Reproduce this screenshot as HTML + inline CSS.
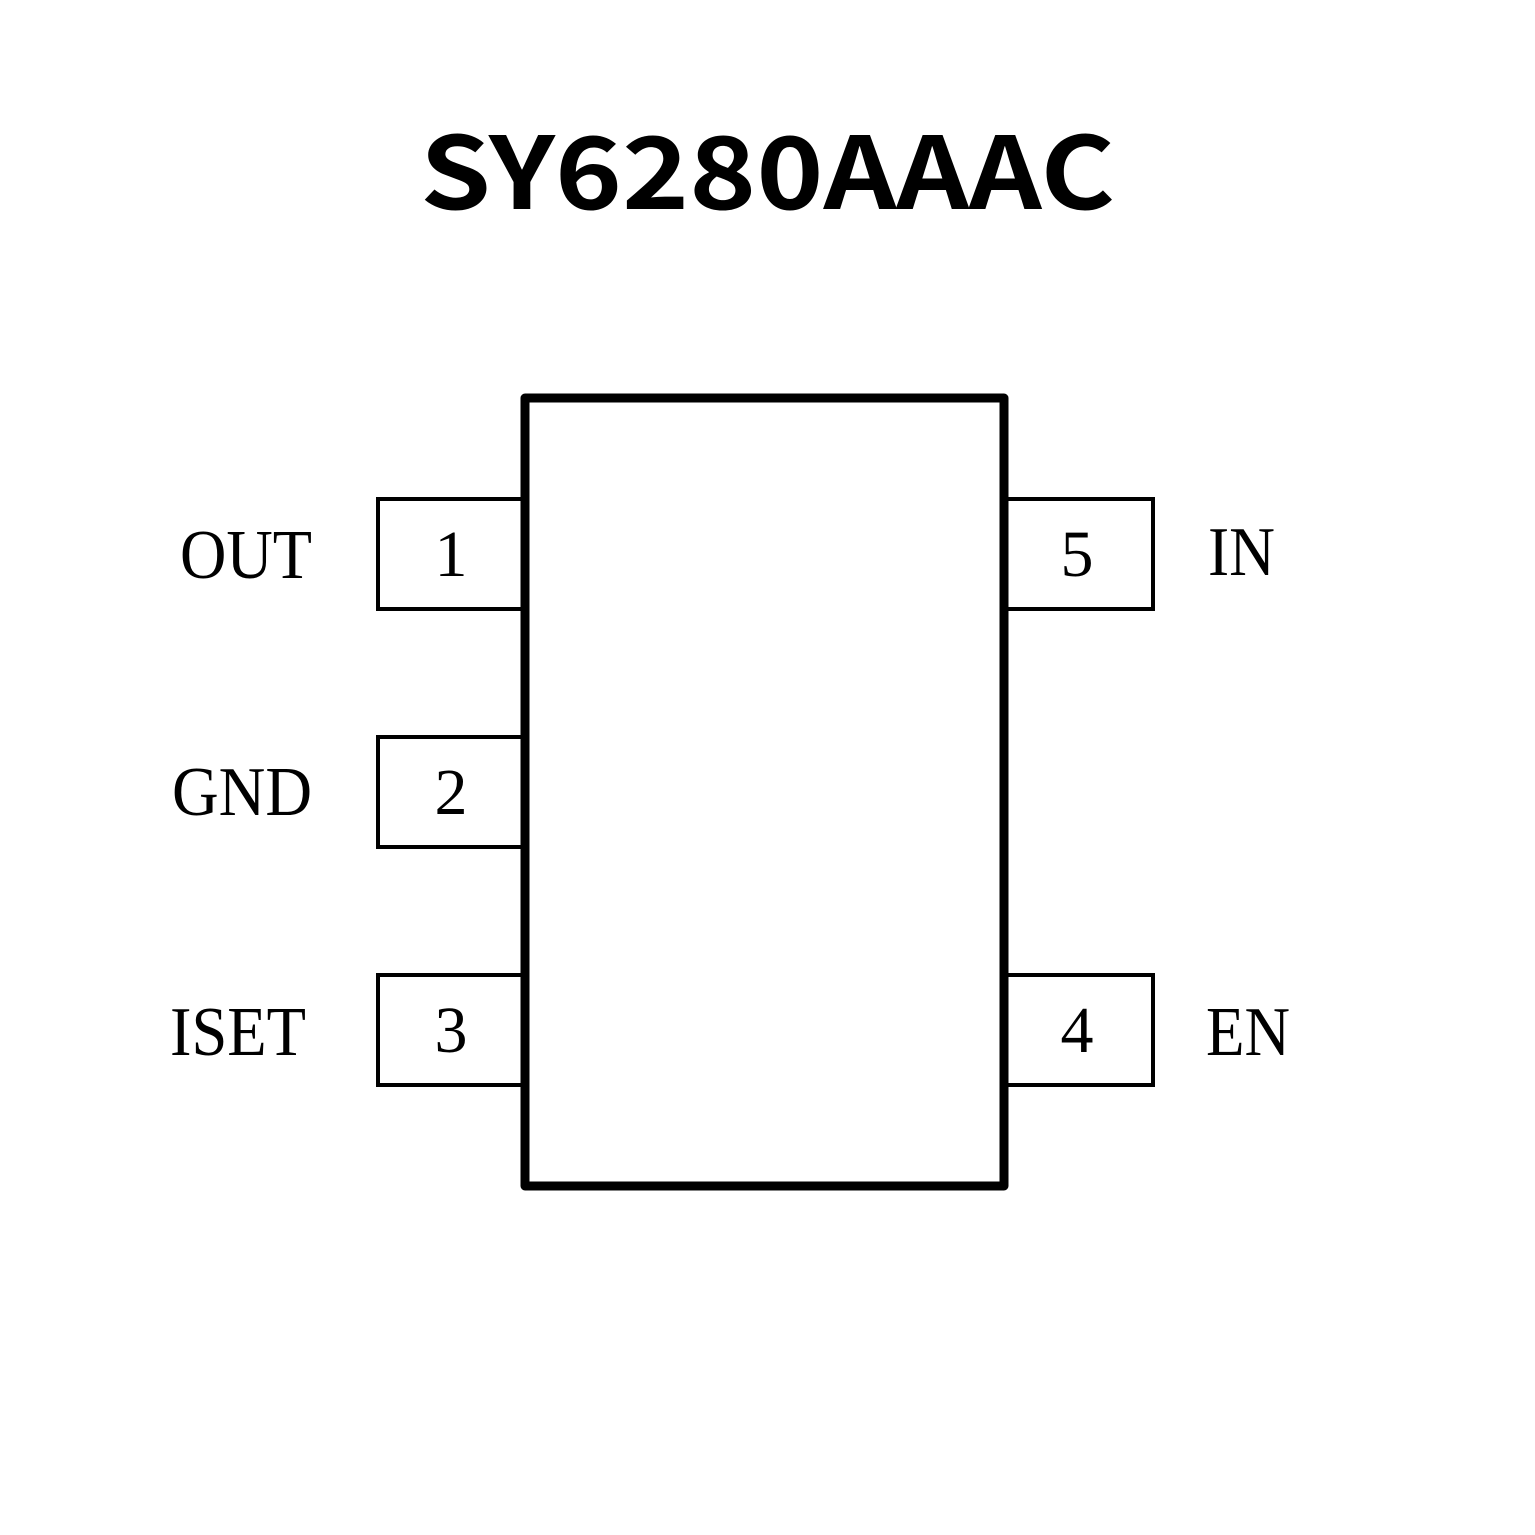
<!DOCTYPE html>
<html><head><meta charset="utf-8"><style>html,body{margin:0;padding:0;background:#fff}svg{display:block}</style></head>
<body>
<svg width="1535" height="1535" viewBox="0 0 1535 1535" xmlns="http://www.w3.org/2000/svg">
<rect width="1535" height="1535" fill="#fff"/>
<text x="420" y="209" font-family="Noto Sans CJK SC, Liberation Sans, sans-serif" font-weight="bold" font-size="100" textLength="695" lengthAdjust="spacingAndGlyphs">SY6280AAAC</text>
<g fill="none" stroke="#000" stroke-width="4">
<rect x="378" y="499" width="145" height="110"/>
<rect x="378" y="737" width="145" height="110"/>
<rect x="378" y="975" width="145" height="110"/>
<rect x="1006" y="499" width="147" height="110"/>
<rect x="1006" y="975" width="147" height="110"/>
</g>
<rect x="525" y="398" width="479" height="788" fill="#fff" stroke="#000" stroke-width="9" stroke-linejoin="round"/>
<g font-family="Liberation Serif, serif" font-size="66" text-anchor="middle">
<text x="451" y="576">1</text>
<text x="451" y="814">2</text>
<text x="451" y="1052">3</text>
<text x="1077" y="576">5</text>
<text x="1077" y="1052">4</text>
</g>
<g font-family="Liberation Serif, serif" font-size="70">
<text x="180" y="578" textLength="132" lengthAdjust="spacingAndGlyphs">OUT</text>
<text x="172" y="815" textLength="140" lengthAdjust="spacingAndGlyphs">GND</text>
<text x="170" y="1055" textLength="136" lengthAdjust="spacingAndGlyphs">ISET</text>
<text x="1208" y="575" textLength="67" lengthAdjust="spacingAndGlyphs">IN</text>
<text x="1206" y="1055" textLength="84" lengthAdjust="spacingAndGlyphs">EN</text>
</g>
</svg>
</body></html>
